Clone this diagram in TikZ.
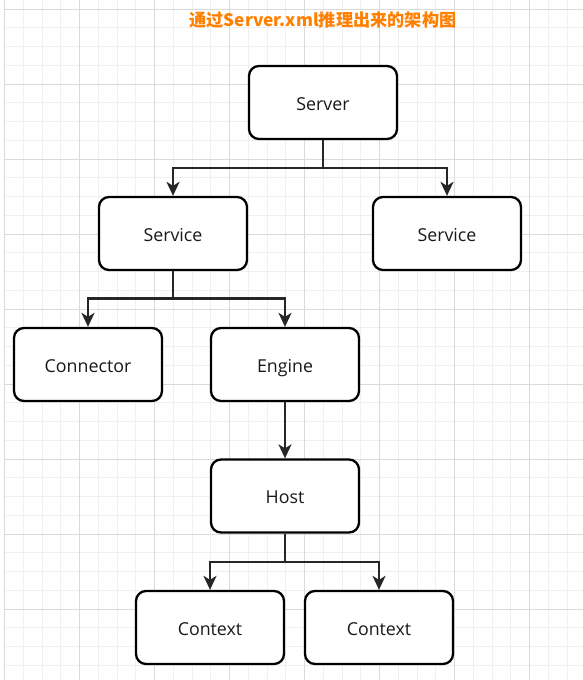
\documentclass[tikz,border=0pt]{standalone}
\usepackage{fontspec}
\setmainfont{Open Sans}
\newfontfamily\cjk{Noto Sans CJK SC}
\usetikzlibrary{arrows.meta}
\definecolor{minorgrid}{HTML}{F0F0F0}
\definecolor{majorgrid}{HTML}{DADADA}
\definecolor{titleorange}{HTML}{FF8000}
\definecolor{linkgray}{HTML}{262626}

\tikzset{
  box/.style={draw=black, line width=2.3pt, rounded corners=10pt, fill=white,
    minimum width=148pt, minimum height=73pt, inner sep=0pt,
    text height=19pt, text depth=4pt,
    text=black!90, font=\fontsize{17.8}{20}\selectfont},
  link/.style={draw=linkgray, line width=2.2pt,
    -{Stealth[length=14pt, width=13pt, inset=4pt]}},
}

\begin{document}
\begin{tikzpicture}[x=1pt, y=-1pt]
 \useasboundingbox (0,0) rectangle (583,680);
 % background grid
 \foreach \k in {0,...,30} \draw[minorgrid, line width=1pt] (4.5+18.75*\k,0) -- (4.5+18.75*\k,680);
 \foreach \k in {-1,...,36} \draw[minorgrid, line width=1pt] (4.5,9+18.75*\k) -- (583,9+18.75*\k);
 \foreach \k in {0,...,7} \draw[majorgrid, line width=1pt] (4.5+75*\k,0) -- (4.5+75*\k,680);
 \foreach \k in {0,...,8} \draw[majorgrid, line width=1pt] (4.5,9+75*\k) -- (583,9+75*\k);

 \node[text=titleorange, font=\cjk\bfseries\fontsize{17.2}{19}\selectfont] (title) at (323,19.5) {通过Server.xml推理出来的架构图};

 \node[box] (server) at (323,102.5) {Server};
 \node[box] (serviceA) at (173,233.5) {Service};
 \node[box] (serviceB) at (447,233.5) {Service};
 \node[box] (connector) at (88,364.5) {Connector};
 \node[box] (engine) at (285,364.5) {Engine};
 \node[box] (host) at (285,496) {Host};
 \node[box] (contextA) at (210,627.5) {Context};
 \node[box] (contextB) at (379,627.5) {Context};

 % junctions
 \coordinate (j1) at (323,168);
 \coordinate (j2) at (173,298.5);
 \coordinate (j3) at (285,562);

 \draw[link] (server.south) -- (j1) -| (serviceA.north);
 \draw[link] (j1) -| (serviceB.north);
 \draw[link] (serviceA.south) -- (j2) -| (connector.north);
 \draw[link] (j2) -| (engine.north);
 \draw[link] (engine.south) -- (host.north);
 \draw[link] (host.south) -- (j3) -| (contextA.north);
 \draw[link] (j3) -| (contextB.north);
\end{tikzpicture}
\end{document}
